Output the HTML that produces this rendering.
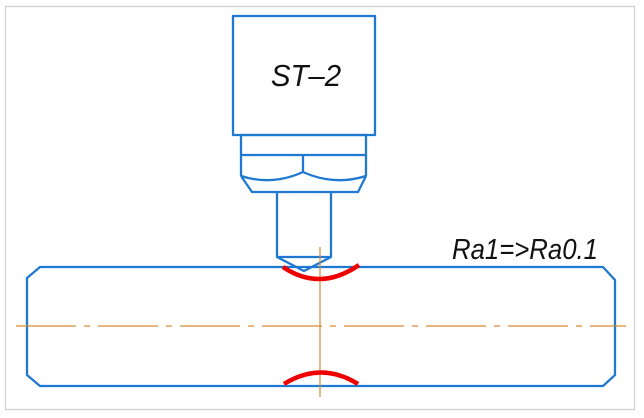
<!DOCTYPE html>
<html><head><meta charset="utf-8"><style>
html,body{margin:0;padding:0;background:#fff;}
svg{display:block;}
</style></head><body>
<svg width="644" height="418" viewBox="0 0 644 418" xmlns="http://www.w3.org/2000/svg">
<rect x="5.5" y="6.5" width="629" height="403" fill="none" stroke="#cfcfcf" stroke-width="1.2"/>
<g fill="none" stroke="#1f78d1" stroke-width="2.3" stroke-linejoin="round">
<rect x="233" y="16" width="142" height="119"/>
<rect x="241" y="135" width="125" height="20"/>
<line x1="241" y1="155" x2="241" y2="176"/>
<line x1="366" y1="155" x2="366" y2="176"/>
<line x1="303" y1="155" x2="303" y2="172"/>
<path d="M241,176 Q272,186 303,172 Q334,186 366,176"/>
<path d="M241,176 L252,192 L358,192 L366,176"/>
<path d="M277,192 L277,257 L331,257 L331,192"/>
<path d="M277,257 L304,271 L331,257"/>
<path d="M40,267 L603,267 L615,280 L615,375 L603,386 L40,386 L27,375 L27,278 Z"/>
</g>
<line x1="16" y1="326" x2="626" y2="326" stroke="#d58a35" stroke-width="1.2" stroke-dasharray="60,8,6,8"/>
<line x1="320" y1="247" x2="320" y2="397" stroke="#d58a35" stroke-width="1.2"/>
<path d="M283,267 Q320,292 359,265" fill="none" stroke="#ee0000" stroke-width="4.5"/>
<path d="M284,384 Q321,361 358,384" fill="none" stroke="#ee0000" stroke-width="4.5"/>
<text x="306" y="86" font-family="Liberation Sans, sans-serif" font-style="italic" font-size="31" text-anchor="middle" fill="#111" transform="translate(306 0) scale(0.95 1) translate(-306 0)">ST–2</text>
<text x="525" y="259" font-family="Liberation Sans, sans-serif" font-style="italic" font-size="29" text-anchor="middle" fill="#111" textLength="146" lengthAdjust="spacingAndGlyphs">Ra1=&gt;Ra0.1</text>
</svg>
</body></html>
